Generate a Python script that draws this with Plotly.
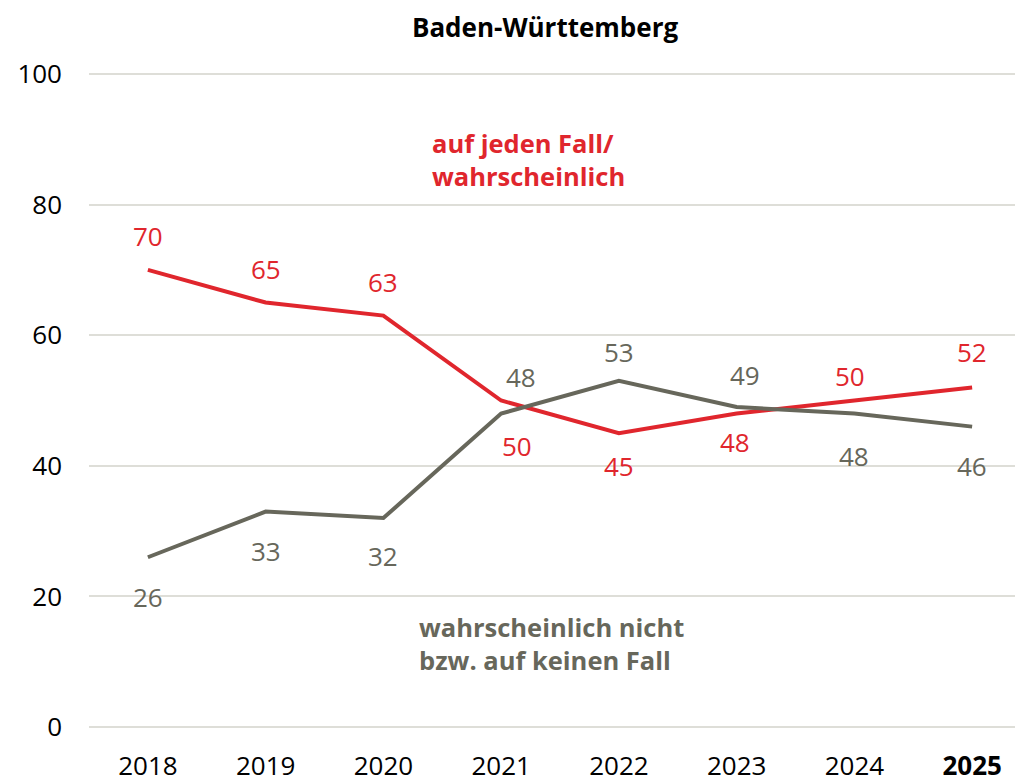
import plotly.graph_objects as go

years = ["2018", "2019", "2020", "2021", "2022", "2023", "2024", "2025"]
tick_text = ["2018", "2019", "2020", "2021", "2022", "2023", "2024", "<b>2025</b>"]
yes_vals = [70, 65, 63, 50, 45, 48, 50, 52]
no_vals = [26, 33, 32, 48, 53, 49, 48, 46]
# label placement (pixel offsets from the point), purely styling
yes_dy = [34, 34, 34, -45, -33, -28, 25, 35]
yes_dx = [0, 0, 0, 16, 0, -2, -4, 0]
no_dy = [-40, -39, -38, 37, 29, 32, -42, -39]
no_dx = [0, 0, 0, 20, 0, 8, 0, 0]

RED = "#E0262D"
GRAY = "#67675B"
FONT = "Open Sans"
TICKFONT = "Open Sans"

fig = go.Figure()
fig.add_trace(go.Scatter(x=years, y=yes_vals, mode="lines",
                         line=dict(color=RED, width=4), hoverinfo="skip"))
fig.add_trace(go.Scatter(x=years, y=no_vals, mode="lines",
                         line=dict(color=GRAY, width=4), hoverinfo="skip"))

for vals, dys, dxs, col in [(yes_vals, yes_dy, yes_dx, RED), (no_vals, no_dy, no_dx, GRAY)]:
    for i, (v, dy, dx) in enumerate(zip(vals, dys, dxs)):
        fig.add_annotation(x=i, y=v, text=str(v), showarrow=False,
                           yshift=dy, xshift=dx,
                           font=dict(family=FONT, size=26, color=col))

fig.add_annotation(x=0.362, xref="paper", y=92.3, yref="y",
                   text="<b>auf jeden Fall/<br>wahrscheinlich</b>", showarrow=False,
                   align="left", xanchor="left", yanchor="top",
                   font=dict(family=FONT, size=25.5, color=RED))
fig.add_annotation(x=0.348, xref="paper", y=18.2, yref="y",
                   text="<b>wahrscheinlich nicht<br>bzw. auf keinen Fall</b>", showarrow=False,
                   align="left", xanchor="left", yanchor="top",
                   font=dict(family=FONT, size=25.5, color=GRAY))

fig.update_layout(
    width=1023, height=782,
    margin=dict(l=81, r=0, t=62, b=59),
    paper_bgcolor="white", plot_bgcolor="white",
    showlegend=False,
    title=dict(text="<b>Baden-Württemberg</b>", x=0.525, xref="container", xanchor="center",
               y=0.975, yref="container", yanchor="middle",
               font=dict(family=FONT, size=26, color="black")),
    xaxis=dict(type="category", range=[-0.5, 7.5], tickvals=years, ticktext=tick_text,
               showgrid=False, showline=False, zeroline=False, ticks="",
               ticklabelstandoff=17,
               tickfont=dict(family=TICKFONT, size=26, color="black")),
    yaxis=dict(range=[-0.6, 100.6], tickvals=[0, 20, 40, 60, 80, 100],
               showgrid=True, gridcolor="#DEDED8", gridwidth=1.5,
               zeroline=False, showline=False, ticks="",
               ticklabelstandoff=26,
               tickfont=dict(family=TICKFONT, size=26, color="black")),
)

fig.write_html("out.html")
